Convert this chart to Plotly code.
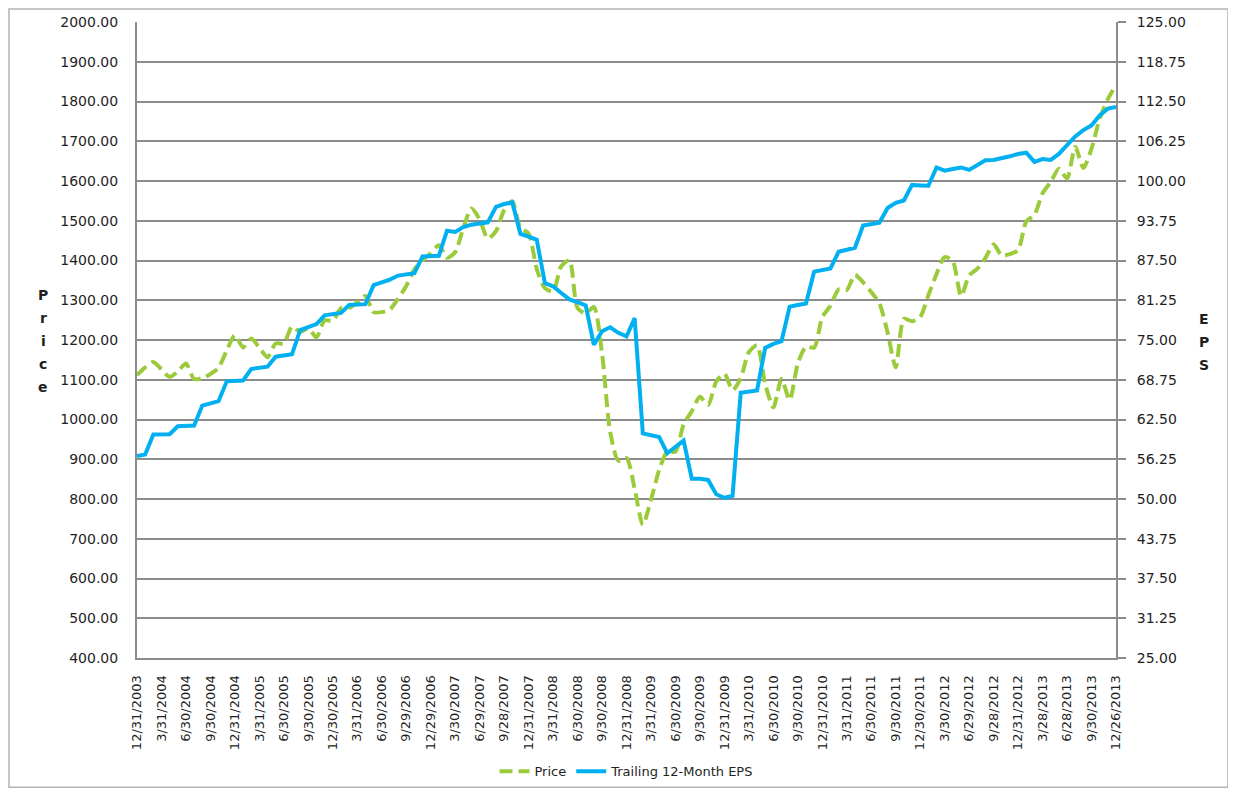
import pandas as pd
import plotly.graph_objects as go

# ---------------- data ----------------
quarter_labels = [
    "12/31/2003", "3/31/2004", "6/30/2004", "9/30/2004", "12/31/2004",
    "3/31/2005", "6/30/2005", "9/30/2005", "12/30/2005", "3/31/2006",
    "6/30/2006", "9/29/2006", "12/29/2006", "3/30/2007", "6/29/2007",
    "9/28/2007", "12/31/2007", "3/31/2008", "6/30/2008", "9/30/2008",
    "12/31/2008", "3/31/2009", "6/30/2009", "9/30/2009", "12/31/2009",
    "3/31/2010", "6/30/2010", "9/30/2010", "12/31/2010", "3/31/2011",
    "6/30/2011", "9/30/2011", "12/30/2011", "3/30/2012", "6/29/2012",
    "9/28/2012", "12/31/2012", "3/28/2013", "6/28/2013", "9/30/2013",
    "12/26/2013",
]

price = [
    1111.92,
    1131.13, 1144.94, 1126.21, 1107.30, 1120.68, 1140.84, 1101.72, 1104.24, 1114.58, 1130.20, 1173.82, 1211.92,
    1181.27, 1203.60, 1180.59, 1156.85, 1191.50, 1191.33, 1234.18, 1220.33, 1228.81, 1207.01, 1249.48, 1248.29,
    1280.08, 1280.66, 1294.83, 1310.61, 1270.09, 1270.20, 1276.66, 1303.82, 1335.85, 1377.94, 1400.63, 1418.30,
    1438.24, 1406.82, 1420.86, 1482.37, 1530.62, 1503.35, 1455.27, 1473.99, 1526.75, 1549.38, 1481.14, 1468.36,
    1378.55, 1330.63, 1322.70, 1385.59, 1400.38, 1280.00, 1267.38, 1282.83, 1166.36, 968.75, 896.24, 903.25,
    825.88, 735.09, 797.87, 872.81, 919.14, 919.32, 987.48, 1020.62, 1057.08, 1036.19, 1095.63, 1115.10,
    1073.87, 1104.49, 1169.43, 1186.69, 1089.41, 1030.71, 1101.60, 1049.33, 1141.20, 1183.26, 1180.55, 1257.64,
    1286.12, 1327.22, 1325.83, 1363.61, 1345.20, 1320.64, 1292.28, 1218.89, 1131.42, 1253.30, 1246.96, 1257.60,
    1312.41, 1365.68, 1408.47, 1397.91, 1310.33, 1362.16, 1379.32, 1406.58, 1440.67, 1412.16, 1416.18, 1426.19,
    1498.11, 1514.68, 1569.19, 1597.57, 1630.74, 1606.28, 1685.73, 1632.97, 1681.55, 1756.54, 1805.81, 1842.02,
]

eps = [
    56.75,
    57.00, 60.13, 60.13, 60.19, 61.44, 61.50, 61.56, 64.69, 65.00, 65.38, 68.50, 68.56,
    68.63, 70.44, 70.63, 70.81, 72.38, 72.63, 72.75, 76.56, 77.00, 77.50, 78.88, 79.06,
    79.25, 80.50, 80.56, 80.63, 83.63, 84.06, 84.50, 85.13, 85.31, 85.50, 88.13, 88.19,
    88.25, 92.19, 92.00, 92.75, 93.13, 93.31, 93.50, 95.94, 96.38, 96.63, 91.69, 91.25,
    90.75, 83.94, 83.44, 82.38, 81.38, 80.94, 80.44, 74.25, 76.38, 77.00, 76.13, 75.56,
    78.44, 60.31, 60.06, 59.75, 57.19, 58.25, 59.19, 53.19, 53.19, 53.00, 50.75, 50.19,
    50.50, 66.69, 66.88, 67.06, 73.75, 74.38, 74.81, 80.25, 80.50, 80.75, 85.75, 86.00,
    86.25, 88.88, 89.13, 89.50, 93.00, 93.25, 93.44, 95.75, 96.56, 96.94, 99.38, 99.31,
    99.25, 102.13, 101.63, 101.88, 102.13, 101.75, 102.50, 103.25, 103.31, 103.56, 103.88, 104.25,
    104.44, 103.00, 103.44, 103.31, 104.25, 105.63, 107.00, 108.00, 108.75, 110.31, 111.38, 111.63,
]

price_title = "Price"
eps_title = "EPS"

# monthly categories; every third one is a labelled quarter end
dates = pd.date_range("2003-12-31", periods=len(price), freq=pd.offsets.MonthEnd())
categories = [f"{d.month}/{d.day}/{d.year}" for d in dates]
for j in range(0, len(categories), 3):
    categories[j] = quarter_labels[j // 3]

GRID = "#8c8c8c"
TXT = "#1f1f1f"
FONT = "DejaVu Sans"

fig = go.Figure()
fig.add_trace(go.Scatter(
    x=categories, y=price, name="Price", mode="lines", yaxis="y",
    line=dict(color="#9BCB3B", width=4, dash="13px,6px", shape="spline", smoothing=0.7),
))
fig.add_trace(go.Scatter(
    x=categories, y=eps, name="Trailing 12-Month EPS", mode="lines", yaxis="y2",
    line=dict(color="#00B0F0", width=4),
))

# the page body has an 8px margin, so the figure is drawn 8px in from the window edge
OFF = 8
W, H = 1236 - OFF, 798 - OFF
L, T = 137 - OFF, 22 - OFF
R, B = W - (1116 - OFF), H - (662 - OFF)
pw, ph = W - L - R, H - T - B


def px_x(px):
    return (px - OFF - L) / pw


def px_y(py):
    return (H - B - (py - OFF)) / ph


annotations = []
for i, ch in enumerate(price_title):
    annotations.append(dict(
        text=f"<b>{ch}</b>", x=px_x(43), y=px_y(297 + 23 * i), xref="paper", yref="paper",
        showarrow=False, xanchor="center", yanchor="middle",
        font=dict(family=FONT, size=14, color=TXT),
    ))
for i, ch in enumerate(eps_title):
    annotations.append(dict(
        text=f"<b>{ch}</b>", x=px_x(1204), y=px_y(321 + 23 * i), xref="paper", yref="paper",
        showarrow=False, xanchor="center", yanchor="middle",
        font=dict(family=FONT, size=14, color=TXT),
    ))

fig.update_layout(
    width=W, height=H, autosize=False,
    margin=dict(l=L, r=R, t=T, b=B, pad=0),
    paper_bgcolor="white", plot_bgcolor="white",
    font=dict(family=FONT, color=TXT),
    showlegend=True,
    legend=dict(
        orientation="h", x=0.5, xanchor="center", y=px_y(776), yanchor="middle",
        font=dict(family=FONT, size=13, color=TXT), bgcolor="rgba(0,0,0,0)",
    ),
    xaxis=dict(
        type="category", categoryorder="array", categoryarray=categories,
        tickmode="array", tickvals=quarter_labels, ticktext=quarter_labels,
        tickangle=-90, range=[0, len(categories) - 1],
        showgrid=False, zeroline=False, automargin=False,
        showline=True, linecolor=GRID, linewidth=2,
        ticks="", ticklabelstandoff=10,
        tickfont=dict(family=FONT, size=13, color=TXT),
    ),
    yaxis=dict(
        range=[400, 2000], tick0=400, dtick=100, tickformat=".2f",
        showgrid=True, gridcolor=GRID, gridwidth=2, zeroline=False, automargin=False,
        showline=True, linecolor=GRID, linewidth=2,
        ticks="", ticklabelstandoff=14,
        tickfont=dict(family=FONT, size=14, color=TXT),
    ),
    yaxis2=dict(
        overlaying="y", side="right",
        range=[25, 125], tick0=25, dtick=6.25, tickformat=".2f",
        showgrid=False, zeroline=False, automargin=False,
        showline=True, linecolor=GRID, linewidth=2,
        ticks="outside", ticklen=8, tickwidth=2, tickcolor=GRID, ticklabelstandoff=8,
        tickfont=dict(family=FONT, size=14, color=TXT),
    ),
    annotations=annotations,
    shapes=[dict(
        type="rect", xref="paper", yref="paper",
        x0=px_x(OFF + 1), x1=px_x(1228), y0=px_y(792), y1=px_y(OFF + 1),
        line=dict(color="#b4b4b4", width=1.5), fillcolor="rgba(0,0,0,0)", layer="below",
    )],
)

fig.write_html("out.html")
